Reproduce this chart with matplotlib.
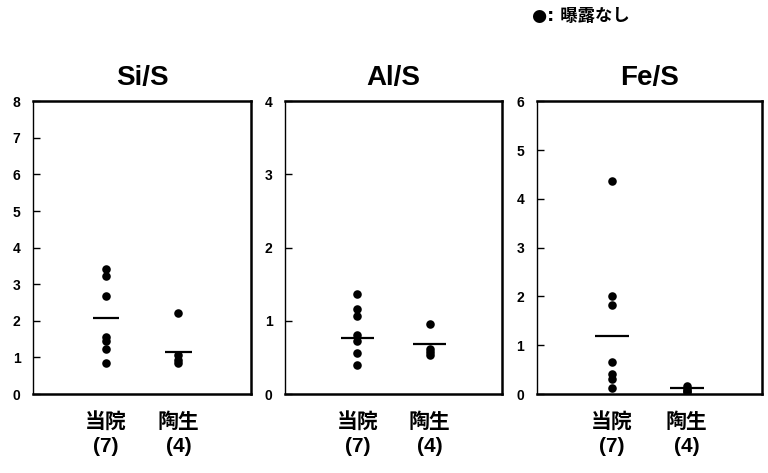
import matplotlib
matplotlib.use("Agg")
import matplotlib.pyplot as plt

plt.rcParams['font.family'] = ['Liberation Sans', 'Noto Sans CJK JP', 'DejaVu Sans']
plt.rcParams['font.weight'] = 'bold'

# ratio values
titles = ["Si/S", "Al/S", "Fe/S"]
groups = ["当院\n(7)", "陶生\n(4)"]
ymax = [8, 4, 6]
yticks = [range(0, 9), range(0, 5), range(0, 7)]

si_touin = [3.42, 3.22, 2.69, 1.57, 1.45, 1.22, 0.86]
si_tousei = [2.20, 1.06, 0.93, 0.84]
al_touin = [1.37, 1.16, 1.06, 0.80, 0.73, 0.56, 0.39]
al_tousei = [0.96, 0.62, 0.58, 0.53]
fe_touin = [4.36, 2.00, 1.82, 0.66, 0.42, 0.31, 0.12]
fe_tousei = [0.16, 0.10, 0.07, 0.05]

# horizontal bars (group means as drawn)
si_means = [2.08, 1.15]
al_means = [0.76, 0.68]
fe_means = [1.18, 0.13]

data = [(si_touin, si_tousei), (al_touin, al_tousei), (fe_touin, fe_tousei)]
means = [si_means, al_means, fe_means]
half_w = [0.18, 0.23, 0.23]

fig = plt.figure(figsize=(7.68, 4.73), dpi=100)
lefts = [0.043, 0.371, 0.699]
widths = [0.284, 0.283, 0.293]

for i in range(3):
    ax = fig.add_axes([lefts[i], 0.167, widths[i], 0.619])
    for j, vals in enumerate(data[i]):
        x = j + 1
        ax.scatter([x] * len(vals), vals, s=38, color='black', zorder=3, linewidths=0)
        ax.hlines(means[i][j], x - half_w[i], x + half_w[i], color='black', lw=1.6)
    ax.set_xlim(0, 3)
    ax.set_ylim(0, ymax[i])
    ax.set_yticks(list(yticks[i]))
    ax.set_yticklabels([str(v) for v in yticks[i]], fontsize=10, fontweight='bold')
    ax.tick_params(axis='y', direction='in', length=5, width=1, pad=9)
    ax.set_xticks([1, 2])
    ax.set_xticklabels(groups, fontsize=15, fontweight='bold')
    for lbl in ax.get_xticklabels():
        lbl.set_linespacing(1.35)
    ax.tick_params(axis='x', length=0, pad=13)
    for side in ['top', 'right', 'bottom']:
        ax.spines[side].set_linewidth(1.8)
    ax.spines['left'].set_linewidth(1.0)
    ax.set_title(titles[i], fontsize=20, fontweight='bold', pad=12)

fig.text(0.693, 0.966, "●: 曝露なし", fontsize=12.5, fontweight='bold',
         family=['DejaVu Sans', 'Noto Sans CJK JP'], va='center', ha='left')

fig.savefig("out.png", dpi=100)
